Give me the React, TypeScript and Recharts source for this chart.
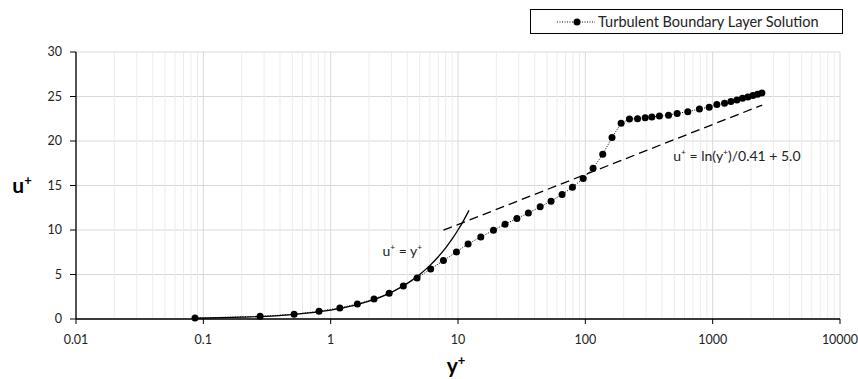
import React from 'react';
import {
  ComposedChart,
  Line,
  XAxis,
  YAxis,
  CartesianGrid,
  ReferenceLine,
  ReferenceDot,
  Legend,
} from 'recharts';

// ---- data ----
const solYPlus = [
  0.086, 0.279, 0.516, 0.81, 1.18, 1.62, 2.19, 2.88, 3.72, 4.77, 6.1, 7.68, 9.72, 12.0,
  15.1, 19.0, 23.4, 29.0, 35.7, 44.2, 53.8, 65.7, 79.2, 96.2, 115, 137, 162, 191, 222,
  257, 295, 333, 382, 450, 526, 638, 787, 939, 1079, 1239, 1390, 1550, 1715, 1890, 2070,
  2250, 2435,
];
const solUPlus = [
  0.1, 0.3, 0.53, 0.87, 1.24, 1.69, 2.25, 2.89, 3.71, 4.61, 5.62, 6.56, 7.54, 8.44,
  9.22, 9.97, 10.65, 11.28, 11.92, 12.6, 13.24, 14.0, 14.8, 15.8, 16.95, 18.5, 20.4, 22.0,
  22.46, 22.5, 22.6, 22.7, 22.8, 22.9, 23.1, 23.3, 23.6, 23.8, 24.1, 24.25, 24.45, 24.6,
  24.8, 24.95, 25.1, 25.25, 25.4,
];

const viscYPlus = [0.086, 0.2, 0.5, 1, 1.5, 2, 3, 4, 5, 6, 7, 8, 9, 10, 11, 12.2];
const viscUPlus = [0.086, 0.2, 0.5, 1, 1.5, 2, 3, 4, 5, 6, 7, 8, 9, 10, 11, 12.2];

const logYPlus = [7.7, 2450];
const logUPlus = [9.98, 24.04];

const xTicks = [0.01, 0.1, 1, 10, 100, 1000, 10000];
const yTicks = [0, 5, 10, 15, 20, 25, 30];
const minorMultipliers = [2, 3, 4, 5, 6, 7, 8, 9];
const minorDecades = [0.01, 0.1, 1, 10, 100, 1000];

const seriesName = 'Turbulent Boundary Layer Solution';

// ---- tables built from the arrays ----
const solData = solYPlus.map((x, i) => ({ x, y: solUPlus[i] }));
const viscData = viscYPlus.map((x, i) => ({ x, y: viscUPlus[i] }));
const logData = logYPlus.map((x, i) => ({ x, y: logUPlus[i] }));
const minorX: number[] = [];
minorDecades.forEach((d) => minorMultipliers.forEach((m) => minorX.push(+(d * m).toPrecision(3))));

const FONT = 'Lato, "Noto Sans", sans-serif';

const SupText = (props: any) => {
  const { viewBox, parts, fontSize } = props;
  const x = viewBox ? viewBox.x : 0;
  const y = viewBox ? viewBox.y : 0;
  return (
    <text x={x} y={y} fontFamily={FONT} fontSize={fontSize} fill="#222" dominantBaseline="middle">
      {parts.map((p: any, i: number) =>
        p.sup ? (
          <tspan key={i} fontSize={fontSize * 0.6} dy={-fontSize * 0.3}>
            {p.t}
          </tspan>
        ) : (
          <tspan key={i} dy={i > 0 && parts[i - 1].sup ? fontSize * 0.3 : 0}>
            {p.t}
          </tspan>
        )
      )}
    </text>
  );
};

const YTitle = (props: any) => {
  const { viewBox } = props;
  const cx = viewBox.x + 6;
  const cy = viewBox.y + viewBox.height / 2 + 7;
  return (
    <text x={cx} y={cy} fontFamily={FONT} fontWeight="bold" fontSize={21} fill="#000" textAnchor="middle">
      <tspan>u</tspan>
      <tspan fontSize={13} dy={-8}>+</tspan>
    </text>
  );
};

const XTitle = (props: any) => {
  const { viewBox } = props;
  const cx = viewBox.x + viewBox.width / 2;
  return (
    <text x={cx - 2} y={viewBox.y + 54} fontFamily={FONT} fontWeight="bold" fontSize={21} fill="#000" textAnchor="middle">
      <tspan>y</tspan>
      <tspan fontSize={13} dy={-8}>+</tspan>
    </text>
  );
};

const LegendBox = () => (
  <div
    style={{
      border: '1px solid #000',
      width: 311,
      height: 23,
      display: 'flex',
      alignItems: 'center',
      fontFamily: FONT,
      fontSize: 14.5,
      color: '#222',
      background: '#fff',
      boxSizing: 'content-box',
      whiteSpace: 'nowrap',
    }}
  >
    <svg width={40} height={10} style={{ marginLeft: 26, marginRight: 1 }}>
      <line x1={0} y1={5} x2={38} y2={5} stroke="#000" strokeWidth={1} strokeDasharray="1 1.5" />
      <circle cx={20} cy={5} r={3.5} fill="#000" />
    </svg>
    <span>{seriesName}</span>
  </div>
);

export default function App() {
  return (
    <div style={{ position: 'absolute', left: 0, top: 0, background: '#fff' }}>
      <ComposedChart width={858} height={379} margin={{ top: 52, right: 18, bottom: 30, left: 16 }}>
        <CartesianGrid stroke="#d9d9d9" strokeWidth={1} verticalValues={xTicks} horizontalValues={yTicks} />
        {minorX.map((v) => (
          <ReferenceLine key={v} x={v} stroke="#ececec" strokeWidth={1} ifOverflow="hidden" />
        ))}
        <XAxis
          dataKey="x"
          type="number"
          scale="log"
          domain={[0.01, 10000]}
          ticks={xTicks}
          allowDataOverflow
          height={30}
          axisLine={{ stroke: '#000', strokeWidth: 1.3 }}
          tickLine={{ stroke: '#000' }}
          tickSize={5}
          tickMargin={11}
          tick={{ fontFamily: FONT, fontSize: 12.5, fill: '#222' }}
          tickFormatter={(v: number) => String(v)}
          label={<XTitle />}
        />
        <YAxis
          dataKey="y"
          type="number"
          domain={[0, 30]}
          ticks={yTicks}
          width={60}
          axisLine={{ stroke: '#000', strokeWidth: 1.3 }}
          tickLine={{ stroke: '#000' }}
          tickSize={6}
          tickMargin={8}
          tick={{ fontFamily: FONT, fontSize: 12.5, fill: '#222' }}
          label={<YTitle />}
        />
        <Line
          data={viscData}
          dataKey="y"
          type="monotone"
          stroke="#000"
          strokeWidth={1.3}
          dot={false}
          isAnimationActive={false}
          legendType="none"
        />
        <Line
          data={logData}
          dataKey="y"
          type="linear"
          stroke="#000"
          strokeWidth={1.3}
          strokeDasharray="9 5"
          dot={false}
          isAnimationActive={false}
          legendType="none"
        />
        <Line
          data={solData}
          dataKey="y"
          name={seriesName}
          type="linear"
          stroke="#000"
          strokeWidth={1}
          strokeDasharray="1 1.5"
          dot={{ r: 3.5, fill: '#000', stroke: '#000', strokeWidth: 0 }}
          isAnimationActive={false}
        />
        <ReferenceDot
          x={2.55}
          y={7.5}
          r={0}
          ifOverflow="visible"
          label={<SupText fontSize={14} parts={[{ t: 'u' }, { t: '+', sup: true }, { t: ' = y' }, { t: '+', sup: true }]} />}
        />
        <ReferenceDot
          x={490}
          y={18.2}
          r={0}
          ifOverflow="visible"
          label={
            <SupText
              fontSize={14}
              parts={[
                { t: 'u' },
                { t: '+', sup: true },
                { t: ' = ln(y' },
                { t: '+', sup: true },
                { t: ')/0.41 + 5.0' },
              ]}
            />
          }
        />
        <Legend
          layout="horizontal"
          verticalAlign="middle"
          align="center"
          wrapperStyle={{ top: 9, left: 530, width: 313 }}
          content={<LegendBox />}
        />
      </ComposedChart>
    </div>
  );
}
